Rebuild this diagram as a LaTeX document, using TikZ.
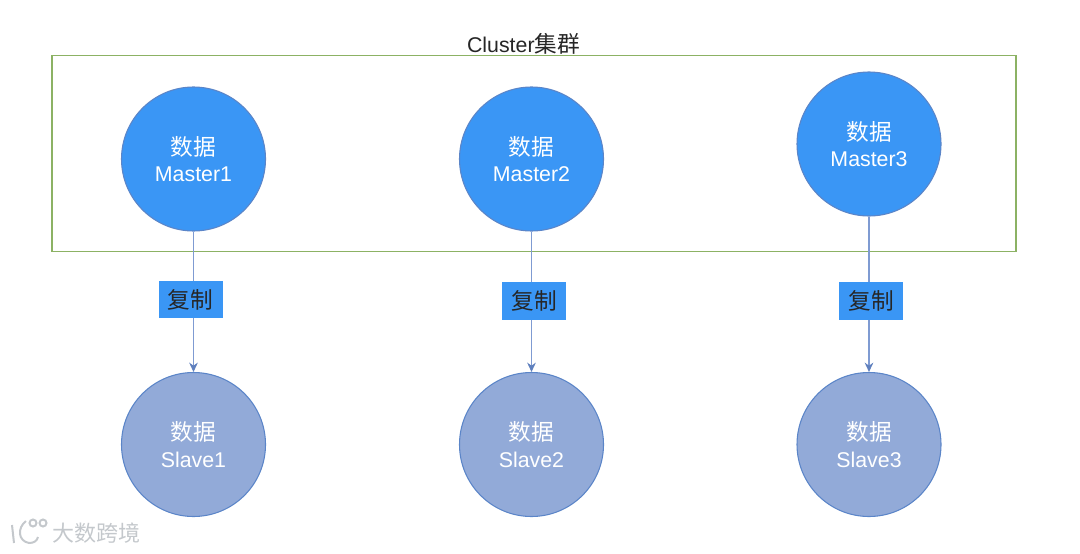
\documentclass[tikz,border=0pt]{standalone}
\usepackage{fontspec}
\setmainfont{Liberation Sans}
\newfontfamily\cjk{Noto Sans CJK SC}
\usetikzlibrary{arrows.meta}
\definecolor{mast}{HTML}{3A96F5}
\definecolor{slav}{HTML}{92AAD8}
\definecolor{lbl}{HTML}{3A96F5}
\definecolor{edgeb}{HTML}{5B85C8}
\definecolor{connc}{HTML}{7F9BD2}
\definecolor{tipc}{HTML}{5F80BE}
\definecolor{grn}{HTML}{8CB264}
\definecolor{wm}{HTML}{C4C8CC}
\newcommand{\zhtxt}[1]{{\cjk\fontsize{17}{20}\selectfont #1}}
\tikzset{
  px/.style={x=0.75pt,y=-0.75pt},
  master/.style={circle,minimum size=108pt,inner sep=0pt,fill=mast,draw=edgeb,line width=0.8pt,text=white,align=center,font=\fontsize{16}{20}\selectfont},
  slave/.style={circle,minimum size=108pt,inner sep=0pt,fill=slav,draw=edgeb,line width=0.8pt,text=white,align=center,font=\fontsize{16}{20}\selectfont},
  lab/.style={fill=lbl,minimum width=48pt,minimum height=28pt,inner sep=0pt,text=black!85},
  link/.style={draw=connc,line width=1.1pt,-{Stealth[length=7pt,width=6.5pt,color=tipc]}},
  wmline/.style={draw=wm,line width=1.5pt}
}
\begin{document}
\begin{tikzpicture}[px]
\useasboundingbox (0,0) rectangle (1080,553);
\node[draw=grn,line width=0.9pt,minimum width=723pt,minimum height=147pt,inner sep=0pt] (cluster) at (534,153.5) {};
\node[font=\fontsize{16}{18}\selectfont,text=black!85] (title) at (523.5,43.5) {Cluster\zhtxt{集群}};
\node[master] (m1) at (193.5,159) {\zhtxt{数据}\\Master1};
\node[master] (m2) at (531.5,159) {\zhtxt{数据}\\Master2};
\node[master] (m3) at (869,144) {\zhtxt{数据}\\Master3};
\node[slave] (s1) at (193.5,444.5) {\zhtxt{数据}\\Slave1};
\node[slave] (s2) at (531.5,444.5) {\zhtxt{数据}\\Slave2};
\node[slave] (s3) at (869,444.5) {\zhtxt{数据}\\Slave3};
\draw[link] (m1) -- (s1);
\draw[link] (m2) -- (s2);
\draw[link] (m3) -- (s3);
\node[lab] (l1) at (190.5,299.5) {\zhtxt{复制}};
\node[lab] (l2) at (534,301) {\zhtxt{复制}};
\node[lab] (l3) at (871,301) {\zhtxt{复制}};
% watermark
\draw[wmline] (12,525) -- (14,543);
\draw[wmline] (26,521) .. controls (17,528) and (18,541) .. (29,543) .. controls (34,543) and (37,541) .. (38,537);
\draw[wmline] (33,523) circle[radius=3.5];
\draw[wmline] (43,523) circle[radius=3.5];
\node[text=wm,font=\cjk\fontsize{16.5}{18}\selectfont,inner sep=0pt] (wmark) at (96,533) {大数跨境};
\end{tikzpicture}
\end{document}
